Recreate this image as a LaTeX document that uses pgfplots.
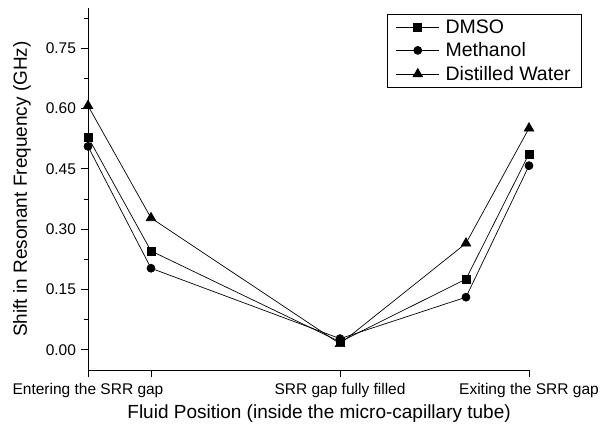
\documentclass[border=0pt]{standalone}
\usepackage{pgfplots}
\pgfplotsset{compat=1.18}
\usepackage{fontspec}
\setmainfont{Liberation Sans}
\begin{document}
\begin{tikzpicture}
\useasboundingbox (-88pt,-59pt) rectangle (515pt,370pt);
\begin{axis}[
  scale only axis,
  width=441pt, height=362pt,
  xmin=0, xmax=7, ymin=-0.05, ymax=0.85,
  axis lines*=left,
  axis line style={line width=0.8pt},
  tick align=outside,
  major tick length=7pt, minor tick length=4pt,
  tick style={line width=0.8pt, black},
  xtick={0,1,4,7},
  xticklabels={Entering the SRR gap,,SRR gap fully filled,Exiting the SRR gap},
  ytick={0,0.15,0.30,0.45,0.60,0.75},
  minor ytick={-0.075,0.075,0.225,0.375,0.525,0.675,0.825},
  ticklabel style={font=\fontsize{15.5}{17}\selectfont},
  yticklabel style={xshift=-1.5pt, /pgf/number format/.cd, fixed, fixed zerofill, precision=2, assume math mode=true},
  xticklabel style={yshift=-3pt},
  xlabel={Fluid Position (inside the micro-capillary tube)},
  ylabel={Shift in Resonant Frequency (GHz)},
  label style={font=\fontsize{19}{21}\selectfont},
  xlabel style={at={(axis description cs:0.524,0)}, anchor=north, yshift=-31pt},
  ylabel style={at={(axis description cs:-0.15,0.5)}, anchor=center},
  legend style={at={(1.12,0.983)}, anchor=north east, draw=black, line width=0.6pt,
    font=\fontsize{19.5}{21}\selectfont, cells={anchor=west},
    inner xsep=9pt, inner ysep=3pt, row sep=4pt, column sep=4pt},
  legend image code/.code={\draw (0pt,0pt) -- (43pt,0pt); \draw plot coordinates {(21.5pt,0pt)};},
  every axis plot/.append style={black, line width=0.7pt},
]
\addplot[mark=square*, mark size=4pt] coordinates {(0,0.529) (1,0.246) (4,0.020) (6,0.176) (7,0.487)};
\addlegendentry{DMSO}
\addplot[mark=*, mark size=4pt] coordinates {(0,0.506) (1,0.203) (4,0.028) (6,0.131) (7,0.458)};
\addlegendentry{Methanol}
\addplot[mark=triangle*, mark size=5.5pt] coordinates {(0,0.607) (1,0.328) (4,0.015) (6,0.265) (7,0.551)};
\addlegendentry{Distilled Water}
\end{axis}
\end{tikzpicture}
\end{document}
